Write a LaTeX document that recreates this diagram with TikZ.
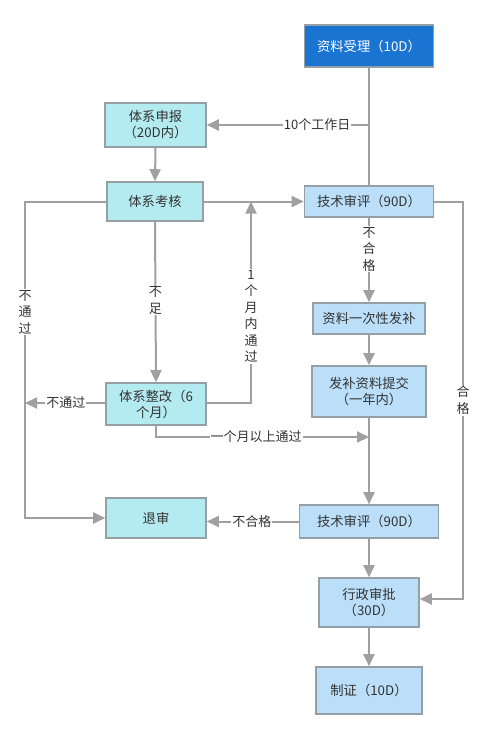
\documentclass[tikz,border=0pt]{standalone}
\usepackage{fontspec}
\setmainfont{Noto Sans CJK SC}
\usetikzlibrary{arrows.meta}
\definecolor{darkbox}{HTML}{1A74D2}
\definecolor{cyanbox}{HTML}{B3EBF0}
\definecolor{bluebox}{HTML}{BBDEF9}
\definecolor{edgegray}{HTML}{959FA6}
\definecolor{linegray}{HTML}{A0A0A0}
\definecolor{txt}{HTML}{333333}
\tikzset{
  box/.style={draw=edgegray, line width=1.6pt, align=center, inner sep=0pt,
    font=\fontsize{13.3}{16}\selectfont, text=txt},
  cbox/.style={box, fill=cyanbox},
  bbox/.style={box, fill=bluebox},
  conn/.style={draw=linegray, line width=2pt},
  arr/.style={conn, -{Triangle[length=12pt,width=11pt]}},
  lbl/.style={fill=white, inner sep=1pt, text=txt, align=center,
    font=\fontsize{13}{16.5}\selectfont}
}
\begin{document}
\begin{tikzpicture}[x=1pt,y=-1pt]
\useasboundingbox (0,0) rectangle (487,739);
% nodes
\node[box, fill=darkbox, text=white, minimum width=129pt, minimum height=42pt] (A) at (369,46) {资料受理（10D）};
\node[cbox, minimum width=101pt, minimum height=44pt] (B) at (155.5,125) {体系申报\\（20D内）};
\node[cbox, minimum width=96pt, minimum height=39pt] (C) at (155,201.5) {体系考核};
\node[bbox, minimum width=129pt, minimum height=31pt] (D) at (369,201.5) {技术审评（90D）};
\node[bbox, minimum width=112pt, minimum height=31pt] (E) at (369,318.5) {资料一次性发补};
\node[bbox, minimum width=114pt, minimum height=51pt] (F) at (369,391.5) {发补资料提交\\（一年内）};
\node[cbox, minimum width=100pt, minimum height=42pt] (G) at (156,404) {体系整改（6\\个月）};
\node[cbox, minimum width=100pt, minimum height=40pt] (H) at (156,518) {退审};
\node[bbox, minimum width=139pt, minimum height=33pt] (I) at (369,521.5) {技术审评（90D）};
\node[bbox, minimum width=100pt, minimum height=49pt] (J) at (369,602.5) {行政审批\\（30D）};
\node[bbox, minimum width=106pt, minimum height=47pt] (K) at (369,690.5) {制证（10D）};
% helper coordinates
\coordinate (ab) at (369,125);
\coordinate (cl) at (25,201.5);
\coordinate (hl) at (25,518);
\coordinate (gl) at (25,403);
\coordinate (gr) at (251,403);
\coordinate (up) at (251,201.5);
\coordinate (gd) at (156,437);
\coordinate (gm) at (369,437);
\coordinate (dr) at (463,201.5);
\coordinate (jr) at (463,599);
% connectors
\draw[conn] (A.south) -- (D.north);
\draw[arr] (ab) -- node[lbl, pos=0.32] {10个工作日} (B.east |- ab);
\draw[arr] (B.south) -- (C.north);
\draw[arr] (C.east) -- (D.west);
\draw[arr] (C.west) -- (cl) -- node[lbl, pos=0.35] {不\\通\\过} (hl) -- (H.west);
\draw[arr] (C.south) -- node[lbl, pos=0.49] {不\\足} (G.north);
\draw[arr] (G.east |- gr) -- (gr) -- node[lbl, pos=0.43] {1\\个\\月\\内\\通\\过} (up);
\draw[arr] (G.west |- gl) -- node[lbl, pos=0.49] {不通过} (gl);
\draw[arr] (G.south) -- (gd) -- node[lbl, pos=0.47] {一个月以上通过} (gm);
\draw[arr] (D.south) -- node[lbl, pos=0.37] {不\\合\\格} (E.north);
\draw[arr] (E.south) -- (F.north);
\draw[arr] (F.south) -- (I.north);
\draw[arr] (D.east) -- (dr) -- node[lbl, pos=0.5] {合\\格} (jr) -- (J.east |- jr);
\draw[arr] (I.west) -- node[lbl, pos=0.51] {不合格} (H.east |- I.west);
\draw[arr] (I.south) -- (J.north);
\draw[arr] (J.south) -- (K.north);
\end{tikzpicture}
\end{document}
